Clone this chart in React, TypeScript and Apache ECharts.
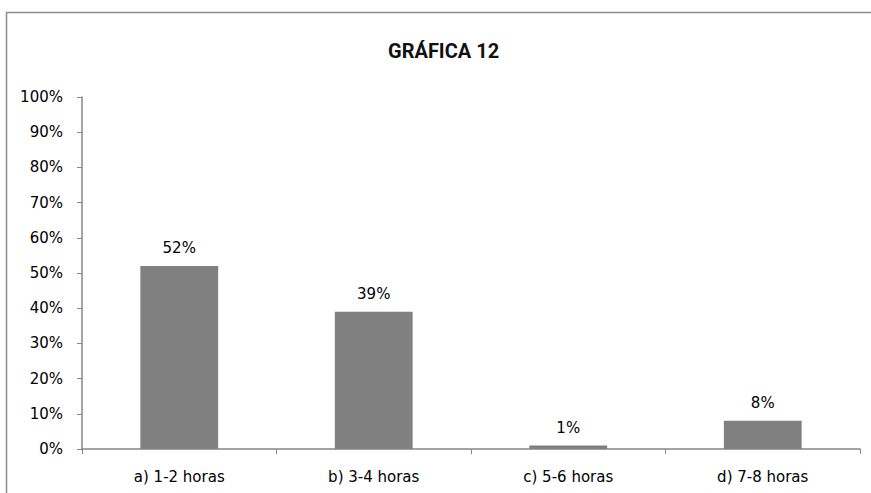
import React, { useEffect, useRef } from "react";
import * as echarts from "echarts";

const title = "GRÁFICA 12";
const categories = ["a) 1-2 horas", "b) 3-4 horas", "c) 5-6 horas", "d) 7-8 horas"];
const values = [52, 39, 1, 8];

export default function App() {
  const ref = useRef<HTMLDivElement>(null);
  useEffect(() => {
    if (!ref.current) return;
    const chart = echarts.init(ref.current, undefined, { renderer: "svg" });
    const axisColor = "#868686";
    const font = "DejaVu Sans";
    chart.setOption({
      animation: false,
      backgroundColor: "#ffffff",
      title: {
        text: title,
        left: 388,
        top: 41,
        padding: 0,
        textStyle: { fontFamily: "Roboto", fontWeight: "bold", fontSize: 20, color: "#111" },
      },
      graphic: [
        {
          type: "rect",
          shape: { x: 6.5, y: 12.5, width: 1000, height: 1000 },
          style: { fill: "none", stroke: "#8c8c8c", lineWidth: 1.5 },
          silent: true,
        },
      ],
      grid: { left: 82, right: 11, top: 97, bottom: 44, containLabel: false },
      xAxis: {
        type: "category",
        data: categories,
        axisLine: { show: true, lineStyle: { color: axisColor, width: 1.5 } },
        axisTick: { show: true, interval: 0, length: 5, alignWithLabel: false, lineStyle: { color: axisColor } },
        axisLabel: { interval: 0, margin: 20, fontFamily: font, fontSize: 15, color: "#000" },
        splitLine: { show: false },
      },
      yAxis: {
        type: "value",
        min: 0,
        max: 100,
        interval: 10,
        axisLine: { show: true, lineStyle: { color: axisColor, width: 1.5 } },
        axisTick: { show: true, length: 5, lineStyle: { color: axisColor } },
        axisLabel: { formatter: "{value}%", margin: 19, fontFamily: font, fontSize: 15, color: "#000" },
        splitLine: { show: false },
      },
      series: [
        {
          type: "bar",
          data: values,
          barWidth: "40%",
          itemStyle: { color: "#808080" },
          label: {
            show: true,
            position: "top",
            distance: 10,
            formatter: "{c}%",
            fontFamily: font,
            fontSize: 15,
            color: "#000",
          },
        },
      ],
    });
    return () => chart.dispose();
  }, []);
  return (
    <div
      ref={ref}
      style={{ position: "fixed", left: 0, top: 0, width: 871, height: 493, overflow: "hidden" }}
    />
  );
}
